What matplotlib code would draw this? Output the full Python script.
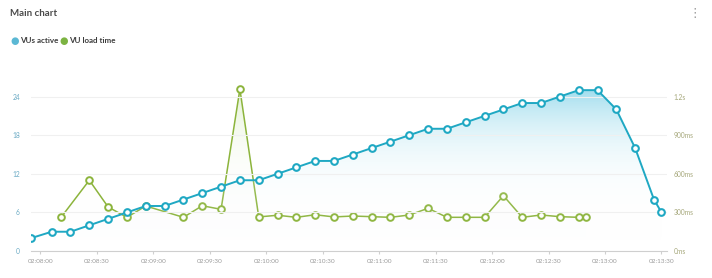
import matplotlib
matplotlib.use("Agg")
import matplotlib.pyplot as plt
import numpy as np
from matplotlib.colors import LinearSegmentedColormap
from matplotlib.ticker import FuncFormatter, FixedLocator

plt.rcParams["font.family"] = ["Lato", "DejaVu Sans"]

# seconds after 02:08:00
vu_time = [-5, 6, 16, 26, 36, 46, 56, 66, 76, 86, 96, 106, 116, 126, 136, 146, 156, 166,
           176, 186, 196, 206, 216, 226, 236, 246, 256, 266, 276, 286, 296, 306, 316, 326, 330]
vu_active = [2, 3, 3, 4, 5, 6, 7, 7, 8, 9, 10, 11, 11, 12, 13, 14, 14, 15,
             16, 17, 18, 19, 19, 20, 21, 22, 23, 23, 24, 25, 25, 22, 16, 8, 6]

load_time_t = [11, 26, 36, 46, 56, 76, 86, 96, 106, 116, 126, 136, 146, 156, 166,
               176, 186, 196, 206, 216, 226, 236, 246, 256, 266, 276, 286, 290]
load_time_ms = [262, 550, 342, 262, 350, 262, 352, 324, 1258, 265, 278, 262, 282, 265, 272,
                267, 262, 280, 332, 262, 262, 262, 430, 262, 280, 267, 262, 262]

left_ticks = [0, 6, 12, 18, 24]
right_ticks = [0, 300, 600, 900, 1200]
right_labels = ["0ms", "300ms", "600ms", "900ms", "1.2s"]
x_ticks = list(range(0, 331, 30))

blue = "#1fa8c3"
green = "#8cb43c"

fig = plt.figure(figsize=(7.12, 2.78), dpi=100)
ax = fig.add_axes([0.0435, 0.097, 0.8935, 0.625])
ax2 = ax.twinx()

ax.set_xlim(-5, 333)
ax.set_ylim(0, 27)
ax2.set_ylim(0, 1350)

# gradient fill under VUs active
poly = ax.fill_between(vu_time, vu_active, 0, color="none", lw=0)
cmap_b = LinearSegmentedColormap.from_list("b", [(1, 1, 1, 0), (0.55, 0.84, 0.92, 0.8)])
grad = np.linspace(0, 1, 256).reshape(-1, 1) ** 1.8
im = ax.imshow(grad, cmap=cmap_b, aspect="auto", extent=[-5, 333, 0, 25],
               origin="lower", zorder=1)
im.set_clip_path(poly.get_paths()[0], transform=ax.transData)

# faint green fill under load time
poly2 = ax2.fill_between(load_time_t, load_time_ms, 0, color="none", lw=0)
cmap_g = LinearSegmentedColormap.from_list("g", [(1, 1, 1, 0), (0.75, 0.88, 0.6, 0.45)])
im2 = ax2.imshow(grad, cmap=cmap_g, aspect="auto", extent=[-5, 333, 0, 1258],
                 origin="lower", zorder=1)
im2.set_clip_path(poly2.get_paths()[0], transform=ax2.transData)

ax.plot(vu_time, vu_active, color=blue, lw=1.4, marker="o", ms=4.8,
        mfc="white", mec=blue, mew=1.5, zorder=4)
ax2.plot(load_time_t, load_time_ms, color=green, lw=1.1, marker="o", ms=4.8,
         mfc="white", mec=green, mew=1.4, zorder=3)

ax.set_zorder(ax2.get_zorder() + 1)
ax.patch.set_visible(False)

ax.set_yticks(left_ticks)
ax2.set_yticks(right_ticks)
ax2.set_yticklabels(right_labels)
ax.xaxis.set_major_locator(FixedLocator(x_ticks))

def fmt_time(s, pos):
    s = int(round(s)) + 2 * 3600 + 8 * 60
    return "%02d:%02d:%02d" % (s // 3600, (s // 60) % 60, s % 60)

ax.xaxis.set_major_formatter(FuncFormatter(fmt_time))

for a in (ax, ax2):
    for sp in a.spines.values():
        sp.set_visible(False)
ax.spines["bottom"].set_visible(True)
ax.spines["bottom"].set_color("#cfcfcf")
ax.spines["bottom"].set_linewidth(0.8)

ax.grid(axis="y", color="#f0f0f0", lw=0.8)
ax.tick_params(axis="x", length=2, color="#d0d0d0", labelsize=4.6, labelcolor="#9a9a9a", pad=3.5)
ax.tick_params(axis="y", length=0, labelsize=4.8, labelcolor="#6aaac4", pad=8)
ax2.tick_params(axis="y", length=0, labelsize=4.8, labelcolor="#a5a77a", pad=4.5)

fig.text(0.014, 0.953, "Main chart", fontsize=7, fontweight="bold", color="#4a4a4a", va="center")
fig.text(0.020, 0.853, "\u25cf", fontsize=7, color="#5bb8d4", va="center", ha="center",
         family="DejaVu Sans")
fig.text(0.028, 0.853, "VUs active", fontsize=5.8, fontweight="bold", color="#3c3c3c", va="center")
fig.text(0.089, 0.853, "\u25cf", fontsize=7, color="#7cb342", va="center", ha="center",
         family="DejaVu Sans")
fig.text(0.097, 0.853, "VU load time", fontsize=5.8, fontweight="bold", color="#3c3c3c", va="center")
fig.text(0.975, 0.953, "\u22ee", fontsize=9, color="#9a9a9a", va="center", ha="center",
         family="DejaVu Sans")

fig.savefig("out.png", dpi=100)
